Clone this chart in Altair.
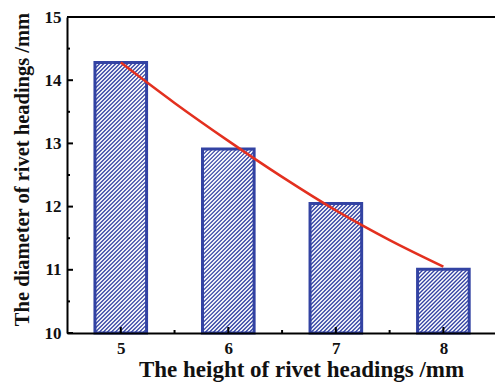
import altair as alt
import pandas as pd
import numpy as np

# ---- data ----
heights = [5, 6, 7, 8]
diameters = [14.28, 12.91, 12.05, 11.01]
fit_x = [5, 5.5, 6, 6.5, 7, 7.5, 8]
fit_y = [14.28, 13.64, 13.04, 12.47, 11.94, 11.47, 11.05]
y_major = [10, 11, 12, 13, 14, 15]
y_minor = [10.5, 11.5, 12.5, 13.5, 14.5]
x_major = [5, 6, 7, 8]
x_minor = [5.5, 6.5, 7.5]

# ---- layout / style ----
W, H = 428, 316
XDOM = [4.5, 8.48]
YDOM = [10, 15]
HALF = 0.24
BLUE = "#3343a3"
RED = "#e3301f"
FONT = "Liberation Serif"

kx = W / (XDOM[1] - XDOM[0])
ky = H / (YDOM[1] - YDOM[0])

bars = pd.DataFrame({"h": heights, "d": diameters})
bars["x0"] = bars["h"] - HALF
bars["x1"] = bars["h"] + HALF
bars["y0"] = YDOM[0]

# hatch lines ("/") clipped to each bar, spacing in pixels
rows = []
step = 4.0
for h, d in zip(heights, diameters):
    w = 2 * HALF * kx
    hp = (d - YDOM[0]) * ky
    c = -hp + step / 2
    while c < w:
        X0 = max(0.0, c)
        X1 = min(w, hp + c)
        rows.append({
            "x": h - HALF + X0 / kx, "y": YDOM[0] + (X0 - c) / ky,
            "x2": h - HALF + X1 / kx, "y2": YDOM[0] + (X1 - c) / ky,
        })
        c += step
hatch = pd.DataFrame(rows)

fit = pd.DataFrame({"x": fit_x, "y": fit_y})

xs = alt.Scale(domain=XDOM, nice=False, zero=False)
ys = alt.Scale(domain=YDOM, nice=False, zero=False)

x_axis = alt.Axis(values=x_major, format="d", title="The height of rivet headings /mm",
                  ticks=False, grid=False, domainColor="black", domainWidth=2,
                  labelFont=FONT, labelFontSize=17, labelFontWeight="bold", labelColor="#111",
                  labelPadding=7, titleFont=FONT, titleFontSize=23, titleFontWeight="bold",
                  titleColor="#111", titlePadding=2, titleX=234, titleAlign="center",
                  titleLimit=600, zindex=1)
y_axis = alt.Axis(values=y_major, format="d", title="The diameter of rivet headings /mm",
                  ticks=False, grid=False, domainColor="black", domainWidth=2,
                  labelFont=FONT, labelFontSize=17, labelFontWeight="bold", labelColor="#111",
                  labelPadding=6, titleFont=FONT, titleFontSize=20.5, titleFontWeight="bold",
                  titleColor="#111", titlePadding=12, titleY=152, titleAlign="center",
                  titleLimit=600, zindex=1)

hatch_layer = alt.Chart(hatch).mark_rule(color=BLUE, strokeWidth=1.3).encode(
    x=alt.X("x:Q", scale=xs, axis=x_axis),
    y=alt.Y("y:Q", scale=ys, axis=y_axis),
    x2="x2:Q", y2="y2:Q",
)

bar_layer = alt.Chart(bars).mark_rect(fill="white", fillOpacity=0, stroke=BLUE, strokeWidth=3).encode(
    x=alt.X("x0:Q", scale=xs), x2="x1:Q",
    y=alt.Y("y0:Q", scale=ys), y2="d:Q",
)

fit_layer = alt.Chart(fit).mark_line(color=RED, strokeWidth=2.5, interpolate="monotone").encode(
    x=alt.X("x:Q", scale=xs), y=alt.Y("y:Q", scale=ys),
)

top_line = alt.Chart(pd.DataFrame({"v": [YDOM[1]]})).mark_rule(color="black", strokeWidth=2).encode(
    y=alt.Y("v:Q", scale=ys)
)

ymaj = alt.Chart(pd.DataFrame({"v": y_major})).mark_rule(color="black", strokeWidth=2).encode(
    y=alt.Y("v:Q", scale=ys), x=alt.value(0), x2=alt.value(6))
ymin = alt.Chart(pd.DataFrame({"v": y_minor})).mark_rule(color="black", strokeWidth=2).encode(
    y=alt.Y("v:Q", scale=ys), x=alt.value(0), x2=alt.value(3))
xmaj = alt.Chart(pd.DataFrame({"v": x_major})).mark_rule(color="black", strokeWidth=2).encode(
    x=alt.X("v:Q", scale=xs), y=alt.value(H), y2=alt.value(H - 6))
xmin = alt.Chart(pd.DataFrame({"v": x_minor})).mark_rule(color="black", strokeWidth=2).encode(
    x=alt.X("v:Q", scale=xs), y=alt.value(H), y2=alt.value(H - 3))

chart = alt.layer(hatch_layer, bar_layer, fit_layer, top_line, ymaj, ymin, xmaj, xmin).properties(
    width=W, height=H,
    padding={"left": 67, "top": 17, "right": 0, "bottom": 50},
    autosize=alt.AutoSizeParams(type="none"),
    background="white",
).configure_view(stroke=None)

chart.save("out.html", embed_options={"renderer": "svg", "actions": False})
